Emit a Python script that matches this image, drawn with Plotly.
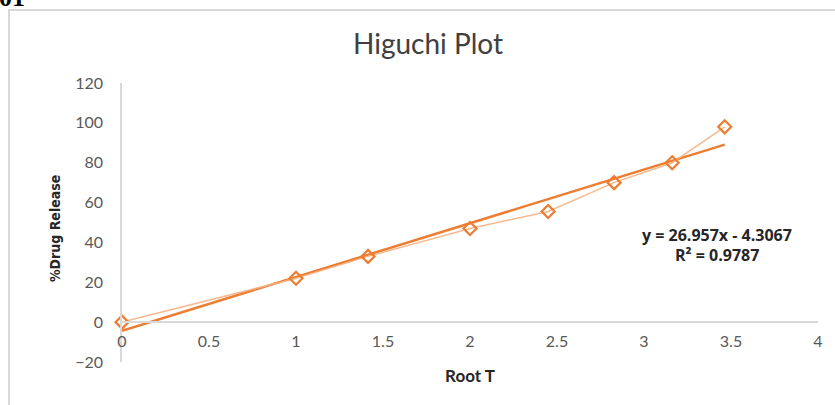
import plotly.graph_objects as go
import numpy as np

# Data
root_t = [0, 1, 1.414, 2, 2.449, 2.828, 3.162, 3.464]
drug_release = [0, 22, 33, 47, 55.5, 70, 80, 98]
slope = 26.957
intercept = -4.3067
eq_text = "y = 26.957x - 4.3067"
r2_text = "R² = 0.9787"
x_ticks = [0, 0.5, 1, 1.5, 2, 2.5, 3, 3.5, 4]
y_ticks = [-20, 0, 20, 40, 60, 80, 100, 120]

W, H = 835, 405
L, R, T, B = 122, 17, 83, 43
pw, ph = W - L - R, H - T - B

def px2x(px):
    return (px - L) / pw

def py2y(py):
    return (H - B - py) / ph

orange = "#ED7D31"
tick_font = dict(family="Lato, Open Sans, sans-serif", size=16, color="#595959")

fig = go.Figure()

# trendline
tx = np.array([root_t[0], root_t[-1]])
fig.add_trace(go.Scatter(x=tx, y=slope * tx + intercept, mode="lines",
                         line=dict(color=orange, width=2.5), hoverinfo="skip",
                         showlegend=False, cliponaxis=False))
# data
fig.add_trace(go.Scatter(x=root_t, y=drug_release, mode="lines+markers",
                         line=dict(color="rgba(244,177,131,0.9)", width=1.5),
                         marker=dict(symbol="diamond-open", size=10, color=orange,
                                     line=dict(width=2.2, color=orange)),
                         showlegend=False, cliponaxis=False))

y0_frac = (0 - (-20)) / 140

fig.update_layout(
    width=W, height=H,
    margin=dict(l=L, r=R, t=T, b=B, autoexpand=False),
    paper_bgcolor="white", plot_bgcolor="white",
    title=dict(text="Higuchi Plot", x=px2x(428), xref="paper", xanchor="center",
               y=1 - 44 / H, yanchor="middle",
               font=dict(family="Lato, Open Sans, sans-serif", size=28, color="#404040")),
    xaxis=dict(range=[0, 4], tickvals=x_ticks, showgrid=False, zeroline=False,
               showline=True, linecolor="#d9d9d9", linewidth=1.5,
               anchor="free", position=y0_frac, ticklabelstandoff=5,
               tickfont=tick_font, automargin=False,
               title=dict(text="<b>Root T</b>", standoff=20,
                          font=dict(family="Lato, Open Sans, sans-serif", size=17, color="#262626"))),
    yaxis=dict(range=[-20, 120], tickvals=y_ticks, showgrid=False, zeroline=False,
               showline=True, linecolor="#d9d9d9", linewidth=1.5, automargin=False,
               ticklabelstandoff=14, tickfont=tick_font),
    shapes=[dict(type="rect", xref="paper", yref="paper",
                 x0=px2x(9), x1=px2x(845), y0=py2y(415), y1=py2y(10),
                 line=dict(color="#d9d9d9", width=2), layer="below")],
    annotations=[
        dict(text="<b>%Drug Release</b>", textangle=-90, xref="paper", yref="paper",
             x=px2x(55), y=py2y(229), showarrow=False, xanchor="center", yanchor="middle",
             font=dict(family="Liberation Sans Narrow, DejaVu Sans Condensed, sans-serif",
                       size=14, color="#262626")),
        dict(text="<b>" + eq_text + "</b>", xref="paper", yref="paper",
             x=px2x(717), y=py2y(235), showarrow=False, xanchor="center", yanchor="middle",
             font=dict(family="Open Sans, sans-serif", size=16, color="#262626")),
        dict(text="<b>" + r2_text + "</b>", xref="paper", yref="paper",
             x=px2x(717), y=py2y(255), showarrow=False, xanchor="center", yanchor="middle",
             font=dict(family="Open Sans, sans-serif", size=16, color="#262626")),
        dict(text="<b>01</b>", xref="paper", yref="paper",
             x=px2x(-3), y=py2y(14), showarrow=False, xanchor="left", yanchor="bottom",
             font=dict(family="Liberation Serif, serif", size=26, color="black")),
    ],
)

fig.write_html("out.html", config={"displayModeBar": False},
               post_script="document.body.style.margin='0';document.body.style.overflow='hidden';")
